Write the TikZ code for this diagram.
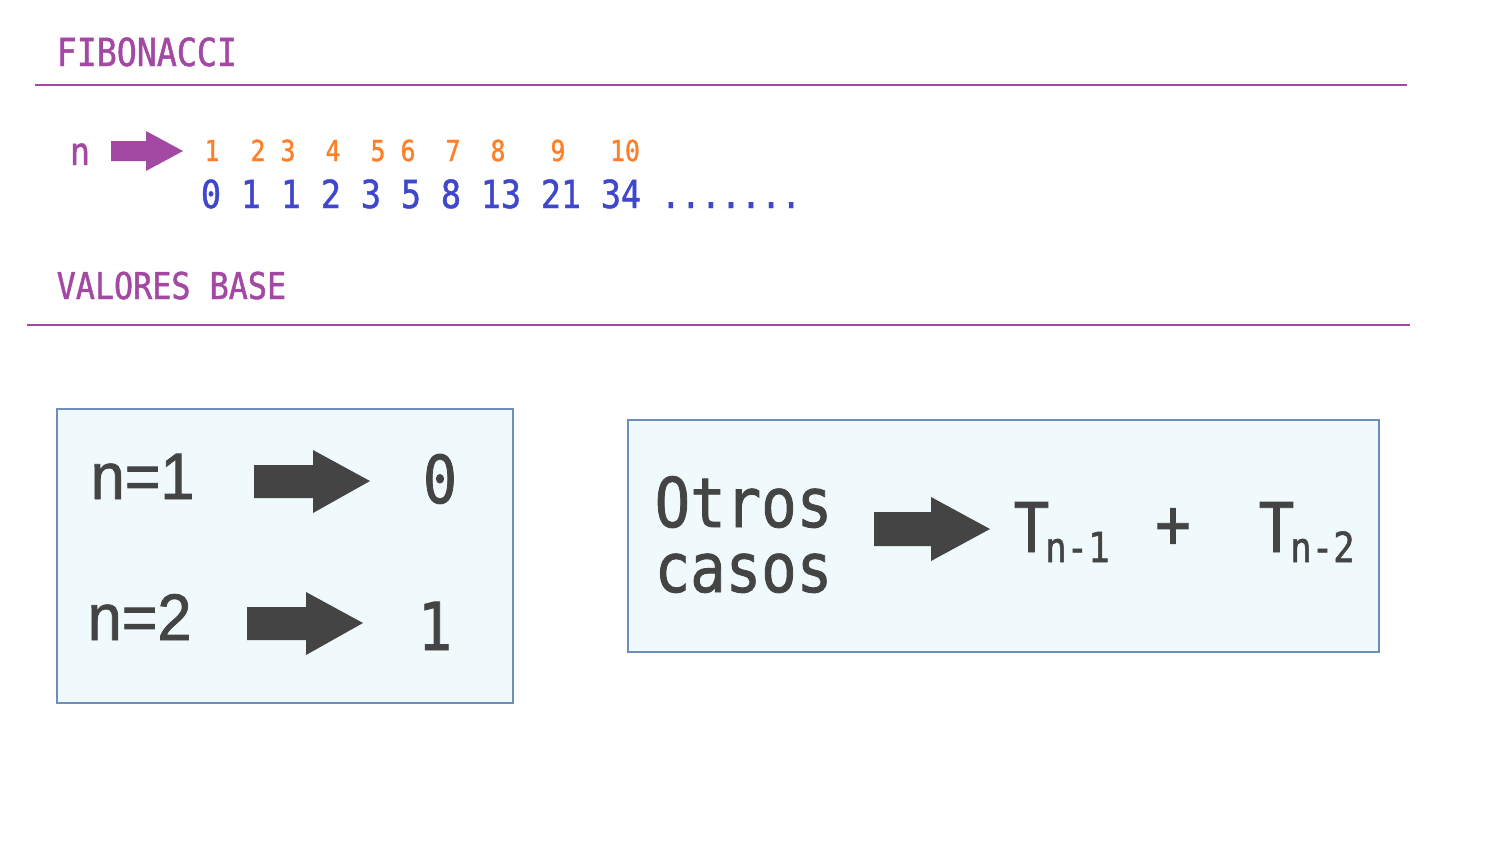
\documentclass[tikz,border=0pt]{standalone}
\usepackage{fontspec}
\newfontfamily\monofont[FakeStretch=0.86, FakeBold=1.2]{DejaVu Sans Mono}
\newfontfamily\arialfont[FakeStretch=0.93, FakeBold=1.2]{Liberation Sans}
\usepackage{tikz}
\usetikzlibrary{positioning, calc}
\usepackage{color}
\definecolor{fibpurple}{RGB}{163,73,164}
\definecolor{fiborange}{RGB}{255,127,39}
\definecolor{fibblue}{RGB}{63,72,204}
\definecolor{fibdark}{RGB}{68,68,68}
\definecolor{fibpanel}{RGB}{240,250,252}
\definecolor{fibborder}{RGB}{108,142,191}
\tikzset{
  title/.style={text=fibpurple, font=\monofont\fontsize{11}{13}\selectfont, anchor=base west, inner sep=0},
  idx/.style={text=fiborange, font=\monofont\fontsize{8.2}{10}\selectfont, anchor=base, inner sep=0},
  seq/.style={text=fibblue, font=\monofont\fontsize{11}{13}\selectfont, anchor=base, inner sep=0},
  big/.style={text=fibdark, font=\monofont\fontsize{19.5}{22}\selectfont, anchor=base west, inner sep=0},
  case/.style={text=fibdark, font=\arialfont\fontsize{18.7}{22}\selectfont, anchor=base west, inner sep=0},
  panel/.style={draw=fibborder, fill=fibpanel, line width=0.8pt},
  hrule/.style={draw=fibpurple, line width=0.8pt},
}
\newcommand{\fibsub}[1]{\kern-0.04cm\raisebox{-0.1cm}{\fontsize{11.8}{14}\selectfont #1}}

\begin{document}
\begin{tikzpicture}[x=0.01cm, y=-0.01cm]
    \useasboundingbox (0,0) rectangle (1497,866);

    % headings
    \node [title] (fib) at (56,66) {FIBONACCI};
    \draw [hrule] (35,85) -- (1407,85);
    \node [title, font=\monofont\fontsize{10.5}{13}\selectfont] (vb) at (56,299) {VALORES BASE};
    \draw [hrule] (27,325) -- (1410,325);

    % n and its arrow
    \node [title, anchor=base] (n) at (80,165) {n};
    \fill [fibpurple] (111,141) -- (146,141) -- (146,131) -- (183,151) -- (146,171) -- (146,161) -- (111,161) -- cycle;

    % positions
    \node [idx] (p1) at (212,161) {1};
    \node [idx] (p2) at (258,161) {2};
    \node [idx] (p3) at (288,161) {3};
    \node [idx] (p4) at (333,161) {4};
    \node [idx] (p5) at (378,161) {5};
    \node [idx] (p6) at (408,161) {6};
    \node [idx] (p7) at (453,161) {7};
    \node [idx] (p8) at (498,161) {8};
    \node [idx] (p9) at (558,161) {9};
    \node [idx] (p10) at (625,161) {10};

    % sequence
    \node [seq] (s1) at (211,208) {0};
    \node [seq] (s2) at (251,208) {1};
    \node [seq] (s3) at (291,208) {1};
    \node [seq] (s4) at (331,208) {2};
    \node [seq] (s5) at (371,208) {3};
    \node [seq] (s6) at (411,208) {5};
    \node [seq] (s7) at (451,208) {8};
    \node [seq] (s8) at (501,208) {13};
    \node [seq] (s9) at (561,208) {21};
    \node [seq] (s10) at (621,208) {34};
    \node [seq] (dots) at (731,208) {.......};

    % base cases
    \draw [panel] (57,409) rectangle (513,703);
    \node [case] (n1) at (90,499) {n=1};
    \fill [fibdark] (254,465) -- (313,465) -- (313,450) -- (370,481) -- (313,513) -- (313,498) -- (254,498) -- cycle;
    \node [big, anchor=base, font=\monofont\fontsize{18.8}{22}\selectfont] (v1) at (440,503) {0};
    \node [case] (n2) at (87,640) {n=2};
    \fill [fibdark] (247,607) -- (306,607) -- (306,592) -- (363,623) -- (306,655) -- (306,640) -- (247,640) -- cycle;
    \node [big, anchor=base, font=\monofont\fontsize{18.8}{22}\selectfont] (v2) at (435,650) {1};

    % other cases
    \draw [panel] (628,420) rectangle (1379,652);
    \node [big] (otros) at (654,527) {Otros};
    \node [big] (casos) at (654,592) {casos};
    \fill [fibdark] (874,512) -- (931,512) -- (931,497) -- (990,529) -- (931,561) -- (931,546) -- (874,546) -- cycle;
    \node [big] (t1) at (1013,552) {T\fibsub{n-1}};
    \node [big, anchor=center] (plus) at (1173,528) {+};
    \node [big] (t2) at (1258,552) {T\fibsub{n-2}};
\end{tikzpicture}
\end{document}
